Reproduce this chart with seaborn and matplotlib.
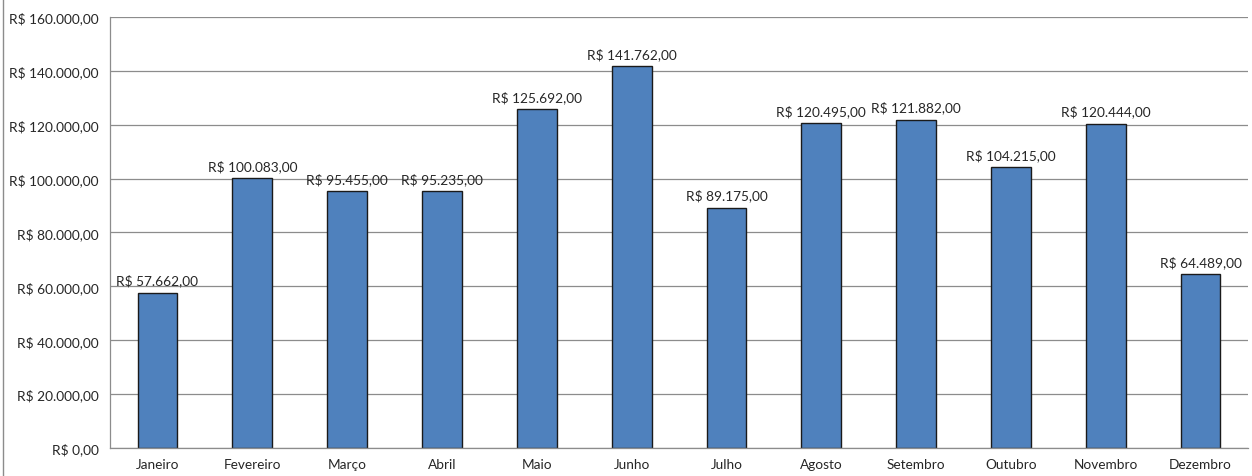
import matplotlib.pyplot as plt
import matplotlib as mpl
import seaborn as sns
import pandas as pd
from matplotlib.lines import Line2D

meses = ["Janeiro", "Fevereiro", "Março", "Abril", "Maio", "Junho", "Julho",
         "Agosto", "Setembro", "Outubro", "Novembro", "Dezembro"]
valores = [57662, 100083, 95455, 95235, 125692, 141762, 89175,
           120495, 121882, 104215, 120444, 64489]
yticks = [0, 20000, 40000, 60000, 80000, 100000, 120000, 140000, 160000]


def brl(v):
    s = f"{v:,.2f}"
    s = s.replace(",", "X").replace(".", ",").replace("X", ".")
    return "R$ " + s


data = pd.DataFrame({"Mês": meses, "Valor": valores})

sns.set_style("white")
mpl.rcParams["font.family"] = ["Lato", "DejaVu Sans"]
mpl.rcParams["font.size"] = 9.8

fig = plt.figure(figsize=(12.52, 4.77), dpi=100)
ax = fig.add_axes([0.0879, 0.0587, 0.9089, 0.9036])

sns.barplot(ax=ax, data=data, x="Mês", y="Valor", color="#4F81BD",
            saturation=1, width=0.42, edgecolor="#1a1a1a", linewidth=1.0)

ax.set_ylim(0, 160000)
ax.set_xlim(-0.5, len(meses) - 0.5)
ax.set_yticks(yticks)
ax.set_yticklabels([brl(v) for v in yticks])
ax.yaxis.grid(True, color="#8c8c8c", linewidth=0.9)
ax.set_axisbelow(True)
ax.set_xlabel("")
ax.set_ylabel("")

for side in ["top", "right"]:
    ax.spines[side].set_visible(False)
for side in ["left", "bottom"]:
    ax.spines[side].set_color("#8c8c8c")
    ax.spines[side].set_linewidth(0.9)

# ticks between categories on x, outward on y
ax.tick_params(axis="x", length=0, pad=7)
ax.set_xticks([i + 0.5 for i in range(len(meses) - 1)], minor=True)
ax.tick_params(axis="x", which="minor", length=4, color="#8c8c8c", direction="out")
ax.tick_params(axis="y", length=4, color="#8c8c8c", direction="out", pad=4)

for i, v in enumerate(valores):
    ax.text(i, v + 2300, brl(v), ha="center", va="bottom", fontsize=9.8)

fig.add_artist(Line2D([3 / 1252, 3 / 1252], [0, 1], color="#8c8c8c", linewidth=1))

fig.savefig("out.png", dpi=100)
